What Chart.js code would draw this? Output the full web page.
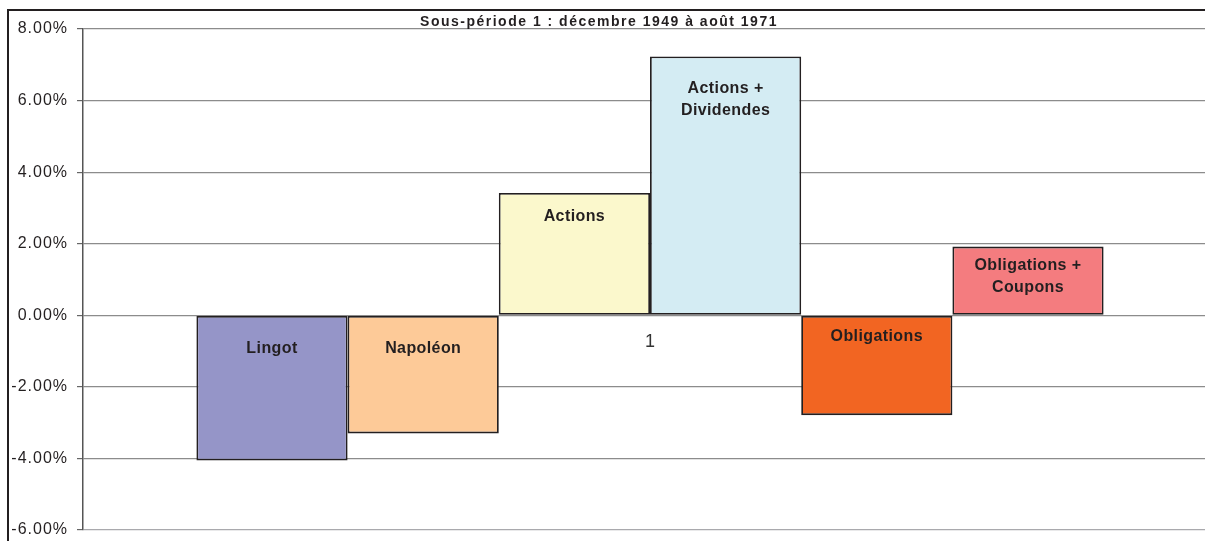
<!DOCTYPE html>
<html lang="fr">
  <head>
    <meta charset="UTF-8" />
    <title>Sous-période 1</title>
    <script src="https://cdn.jsdelivr.net/npm/chart.js"></script>
    <style>
      html,
      body {
        margin: 0;
        padding: 0;
        background: #ffffff;
        overflow: hidden;
      }
      canvas {
        display: block;
      }
    </style>
  </head>
  <body>
    <canvas id="perfChart" width="1230" height="541"></canvas>

    <script>
      // Rendements annuels moyens par actif (en %)
      const categories = ["1"];
      const seriesNames = [
        "Lingot",
        "Napoléon",
        "Actions",
        "Actions + Dividendes",
        "Obligations",
        "Obligations + Coupons",
      ];
      const seriesLines = [
        ["Lingot"],
        ["Napoléon"],
        ["Actions"],
        ["Actions +", "Dividendes"],
        ["Obligations"],
        ["Obligations +", "Coupons"],
      ];
      const seriesValues = [-4.06, -3.3, 3.42, 7.23, -2.79, 1.92];
      const seriesColors = ["#9595c8", "#fdca98", "#fbf8cc", "#d4ecf3", "#f26522", "#f47c7f"];
      const yTicks = [-6, -4, -2, 0, 2, 4, 6, 8];
      const title = "Sous-période 1 : décembre 1949 à août 1971";

      // distance from the bar's upper edge to the first label baseline
      const labelDrop = [37, 37, 28, 36, 25, 23];

      const ink = "#231f20";

      const datasets = seriesNames.map((name, i) => ({
        label: name,
        data: [seriesValues[i]],
        backgroundColor: seriesColors[i],
        borderColor: ink,
        borderWidth: 1.8,
        borderSkipped: false,
        lines: seriesLines[i],
        drop: labelDrop[i],
      }));

      const decorations = {
        id: "decorations",
        beforeDraw(chart) {
          chart.ctx.letterSpacing = "1px";
        },
        afterDraw(chart) {
          const { ctx, scales } = chart;
          const zeroY = scales.y.getPixelForValue(0);
          ctx.save();

          // outer frame
          ctx.strokeStyle = ink;
          ctx.lineWidth = 2;
          ctx.strokeRect(8, 10, 1400, 700);

          // title
          ctx.fillStyle = ink;
          ctx.textAlign = "center";
          ctx.textBaseline = "alphabetic";
          ctx.letterSpacing = "1.5px";
          ctx.font = "bold 14px 'Liberation Sans', Arial, sans-serif";
          ctx.fillText(title, 599, 25.5);

          // series names inside bars
          ctx.letterSpacing = "0.4px";
          ctx.font = "bold 16px 'Liberation Sans', Arial, sans-serif";
          chart.data.datasets.forEach((ds, i) => {
            const bar = chart.getDatasetMeta(i).data[0];
            const top = Math.min(bar.y, bar.base);
            ds.lines.forEach((line, k) => {
              ctx.fillText(line, bar.x, top + ds.drop + k * 22);
            });
          });

          // category label sitting under the zero line
          ctx.letterSpacing = "0px";
          ctx.font = "18px 'Liberation Sans', Arial, sans-serif";
          ctx.fillStyle = "#333333";
          ctx.fillText(categories[0], scales.x.getPixelForValue(0), zeroY + 32);

          ctx.restore();
        },
      };

      new Chart(document.getElementById("perfChart"), {
        type: "bar",
        data: { labels: categories, datasets: datasets },
        options: {
          responsive: false,
          animation: false,
          devicePixelRatio: 1,
          layout: { padding: { top: 29, right: 13, bottom: 11, left: 0 } },
          datasets: {
            bar: { categoryPercentage: 0.8, barPercentage: 1.0 },
          },
          plugins: {
            legend: { display: false },
            title: { display: false },
            tooltip: { enabled: false },
          },
          scales: {
            x: {
              display: false,
            },
            y: {
              min: -6,
              max: 8,
              afterFit(scale) {
                scale.width = 83;
                scale.paddingTop = 0;
                scale.paddingBottom = 0;
              },
              afterBuildTicks(scale) {
                scale.ticks = yTicks.map((v) => ({ value: v }));
              },
              ticks: {
                color: ink,
                padding: 9,
                font: { family: "'Liberation Sans', Arial, sans-serif", size: 16 },
                callback: (v) => v.toFixed(2) + "%",
              },
              grid: {
                color: (c) => (c.tick && c.tick.value === -6 ? "#a9a9ad" : "#8c8c8c"),
                lineWidth: 1.2,
                tickLength: 6,
                tickColor: "#666666",
              },
              border: { color: "#555555", width: 1.5 },
            },
          },
        },
        plugins: [decorations],
      });
    </script>
  </body>
</html>
